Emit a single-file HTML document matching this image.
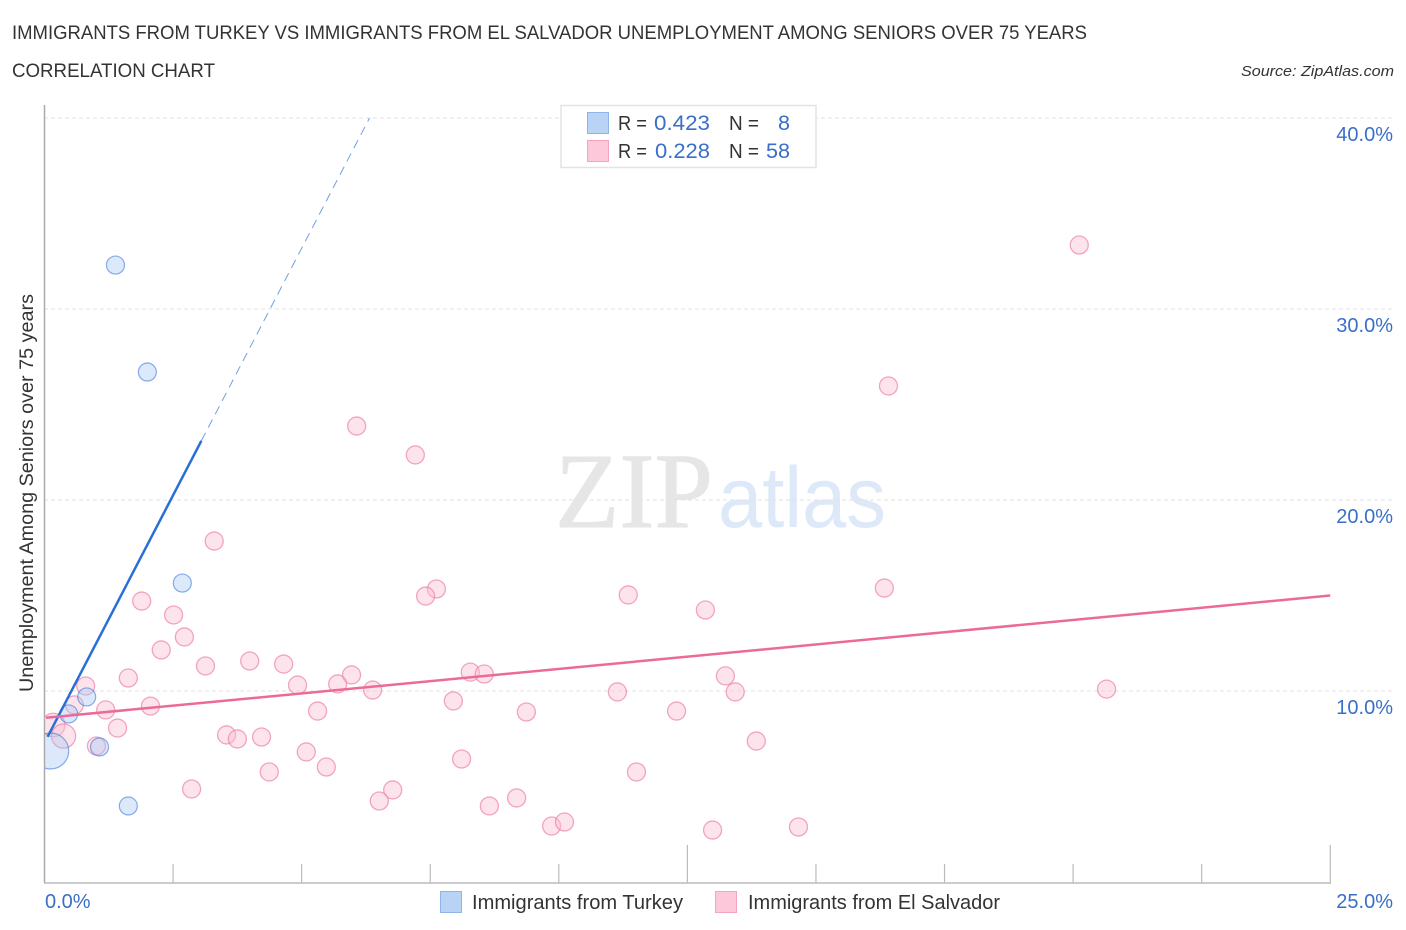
<!DOCTYPE html>
<html>
<head>
<meta charset="utf-8">
<title>Correlation chart</title>
<style>
html,body{margin:0;padding:0;background:#fff;width:1406px;height:930px;overflow:hidden}
svg{display:block;font-family:"Liberation Sans",sans-serif}
</style>
</head>
<body>
<svg id="chart" width="1406" height="930" viewBox="0 0 1406 930">
<defs><clipPath id="plot-clip"><rect x="45" y="100" width="1361" height="783"/></clipPath></defs>
<text x="12" y="39" font-size="19" fill="#333" textLength="1075" lengthAdjust="spacingAndGlyphs">IMMIGRANTS FROM TURKEY VS IMMIGRANTS FROM EL SALVADOR UNEMPLOYMENT AMONG SENIORS OVER 75 YEARS</text>
<text x="12" y="77" font-size="19" fill="#333" textLength="203" lengthAdjust="spacingAndGlyphs">CORRELATION CHART</text>
<text x="1241" y="76" font-size="15" font-style="italic" fill="#333" textLength="153" lengthAdjust="spacingAndGlyphs">Source: ZipAtlas.com</text>
<text x="555" y="527" font-size="107" font-family="Liberation Serif, serif" fill="#e6e6e6" stroke="#e6e6e6" stroke-width="1" textLength="158" lengthAdjust="spacingAndGlyphs">ZIP</text>
<text x="718" y="527" font-size="86" fill="#dde9f8" textLength="168" lengthAdjust="spacingAndGlyphs">atlas</text>
<g id="grid"></g>
<g id="axes"></g>
<g id="marks" clip-path="url(#plot-clip)"></g>
<g id="labels"></g>
<text transform="translate(33,493) rotate(-90)" font-size="19" fill="#333" text-anchor="middle" textLength="398" lengthAdjust="spacingAndGlyphs">Unemployment Among Seniors over 75 years</text>
<g>
<rect x="561" y="105.5" width="255" height="62" fill="#fff" stroke="#e3e3e3" stroke-width="1.5"/>
<rect x="587.5" y="112.5" width="21" height="21" fill="#b9d3f6" stroke="#8fb5e8" stroke-width="1"/>
<rect x="587.5" y="140.5" width="21" height="21" fill="#fcc8da" stroke="#f3a5c0" stroke-width="1"/>
<g font-size="20">
<text x="618" y="130" fill="#333" textLength="29" lengthAdjust="spacingAndGlyphs">R =</text>
<text x="654" y="130" fill="#3a6fc9" font-size="21" textLength="56" lengthAdjust="spacingAndGlyphs">0.423</text>
<text x="729" y="130" fill="#333" textLength="30" lengthAdjust="spacingAndGlyphs">N =</text>
<text x="778" y="130" fill="#3a6fc9" font-size="21" textLength="12" lengthAdjust="spacingAndGlyphs">8</text>
<text x="618" y="158" fill="#333" textLength="29" lengthAdjust="spacingAndGlyphs">R =</text>
<text x="655" y="158" fill="#3a6fc9" font-size="21" textLength="55" lengthAdjust="spacingAndGlyphs">0.228</text>
<text x="729" y="158" fill="#333" textLength="30" lengthAdjust="spacingAndGlyphs">N =</text>
<text x="766" y="158" fill="#3a6fc9" font-size="21" textLength="24" lengthAdjust="spacingAndGlyphs">58</text>
</g>
</g>
<g>
<rect x="440.5" y="891.5" width="21" height="21" fill="#b9d3f6" stroke="#8fb5e8" stroke-width="1"/>
<text x="472" y="909" font-size="20" fill="#333" textLength="211" lengthAdjust="spacingAndGlyphs">Immigrants from Turkey</text>
<rect x="715.5" y="891.5" width="21" height="21" fill="#fcc8da" stroke="#f3a5c0" stroke-width="1"/>
<text x="748" y="909" font-size="20" fill="#333" textLength="252" lengthAdjust="spacingAndGlyphs">Immigrants from El Salvador</text>
</g>
</svg>
<script>
const turkeyX = [1.38, 2.00, 2.68, 0.47, 0.82, 1.07, 1.63, 0.12];
const turkeyY = [32.3, 26.7, 15.65, 8.8, 9.69, 7.07, 3.98, 6.86];
const turkeyWeight = [1, 1, 1, 1, 1, 1, 1, 4];

const salvadorX = [20.12,16.41,6.07,7.21,3.30,7.62,7.41,11.35,16.33,12.85,1.89,2.51,2.72,2.27,3.13,3.99,4.65,5.97,4.92,5.70,6.38,8.28,8.55,13.24,11.14,13.43,20.65,1.63,0.80,0.58,2.06,1.19,5.31,7.95,9.37,12.29,1.42,3.54,3.75,4.22,13.84,1.01,5.09,8.11,5.48,4.37,11.51,2.86,6.77,6.51,8.65,9.18,9.86,10.11,12.99,14.66,0.17,0.37];
const salvadorY = [33.35,25.97,23.87,22.36,17.85,15.34,14.97,15.03,15.39,14.24,14.71,13.98,12.83,12.15,11.31,11.57,11.41,10.84,10.31,10.37,10.05,10.99,10.89,10.79,9.95,9.95,10.10,10.68,10.26,9.27,9.21,9.01,8.95,9.48,8.90,8.95,8.06,7.70,7.49,7.59,7.38,7.12,6.81,6.44,6.02,5.76,5.76,4.87,4.82,4.24,3.98,4.40,2.93,3.14,2.72,2.88,8.22,7.64];
const salvadorWeight = [1,1,1,1,1,1,1,1,1,1,1,1,1,1,1,1,1,1,1,1,1,1,1,1,1,1,1,1,1,1,1,1,1,1,1,1,1,1,1,1,1,1,1,1,1,1,1,1,1,1,1,1,1,1,1,1,1.7,1.8];

const turkeyTrendX = [0.06, 3.05];
const turkeyTrendY = [7.6, 23.1];
const turkeyTrendDashX = [3.05, 6.32];
const turkeyTrendDashY = [23.1, 40];
const salvadorTrendX = [0.03, 25];
const salvadorTrendY = [8.6, 15.0];

const yTicks = [10, 20, 30, 40];
const yTickLabels = ["10.0%", "20.0%", "30.0%", "40.0%"];
const xTicks = [2.5, 5, 7.5, 10, 12.5, 15, 17.5, 20, 22.5, 25];
const xMajorTicks = [12.5, 25];
const xEndTicks = [0, 25];
const xEndLabels = ["0.0%", "25.0%"];

const NS = "http://www.w3.org/2000/svg";
const xScale = v => 44.5 + v * 51.43;
const yScale = v => 882 - v * 19.1;

function make(tag, parent, attrs) {
  const el = document.createElementNS(NS, tag);
  for (const k in attrs) el.setAttribute(k, attrs[k]);
  parent.appendChild(el);
  return el;
}
const grid = document.getElementById("grid");
const axes = document.getElementById("axes");
const marks = document.getElementById("marks");
const labels = document.getElementById("labels");

yTicks.forEach((t, i) => {
  const line = make("line", grid, {x1: 44, x2: 1393, y1: yScale(t), y2: yScale(t), stroke: "#e2e2e2", "stroke-width": 1, "stroke-dasharray": "4 3"});
  
  
  const label = make("text", labels, {x: 1393, y: yScale(t) + 23, "font-size": 20, fill: "#3a6fc9", "text-anchor": "end"});
  label.textContent = yTickLabels[i];
  
  
});

const yAxis = make("line", axes, {x1: 44.5, x2: 44.5, y1: 105, y2: 883, stroke: "#aaa", "stroke-width": 1.5});


const xAxis = make("line", axes, {x1: 44, x2: 1331, y1: 883, y2: 883, stroke: "#bbb", "stroke-width": 1.5});



xTicks.forEach(t => {
  const major = xMajorTicks.includes(t);
  const tick = make("line", axes, {x1: xScale(t), x2: xScale(t), y1: major ? 845 : 864, y2: 883, stroke: "#bbb", "stroke-width": 1.2});
  
  
});

xEndTicks.forEach((t, i) => {
  const label = make("text", labels, {x: t === 0 ? 45 : 1393, y: 908, "font-size": 20, fill: "#3a6fc9", "text-anchor": t === 0 ? "start" : "end"});
  label.textContent = xEndLabels[i];
  
  
});

salvadorX.forEach((x, i) => {
  const c = make("circle", marks, {cx: xScale(x), cy: yScale(salvadorY[i]), r: 9 * Math.sqrt(salvadorWeight[i]), fill: "rgba(250,190,210,0.42)", stroke: "rgba(236,130,165,0.7)", "stroke-width": 1.3});
  
  
});
turkeyX.forEach((x, i) => {
  const c = make("circle", marks, {cx: xScale(x), cy: yScale(turkeyY[i]), r: 9 * Math.sqrt(turkeyWeight[i]), fill: "rgba(165,200,245,0.4)", stroke: "rgba(60,120,220,0.6)", "stroke-width": 1.2});
  
  
});

const blueLine = make("line", marks, {x1: xScale(turkeyTrendX[0]), y1: yScale(turkeyTrendY[0]), x2: xScale(turkeyTrendX[1]), y2: yScale(turkeyTrendY[1]), stroke: "#2a6fd6", "stroke-width": 2.5});


const blueDash = make("line", marks, {x1: xScale(turkeyTrendDashX[0]), y1: yScale(turkeyTrendDashY[0]), x2: xScale(turkeyTrendDashX[1]), y2: yScale(turkeyTrendDashY[1]), stroke: "#6f9fe0", "stroke-width": 1, "stroke-dasharray": "9 6"});


const pinkLine = make("line", marks, {x1: xScale(salvadorTrendX[0]), y1: yScale(salvadorTrendY[0]), x2: xScale(salvadorTrendX[1]), y2: yScale(salvadorTrendY[1]), stroke: "#ec6a9a", "stroke-width": 2.5});


</script>
</body>
</html>
